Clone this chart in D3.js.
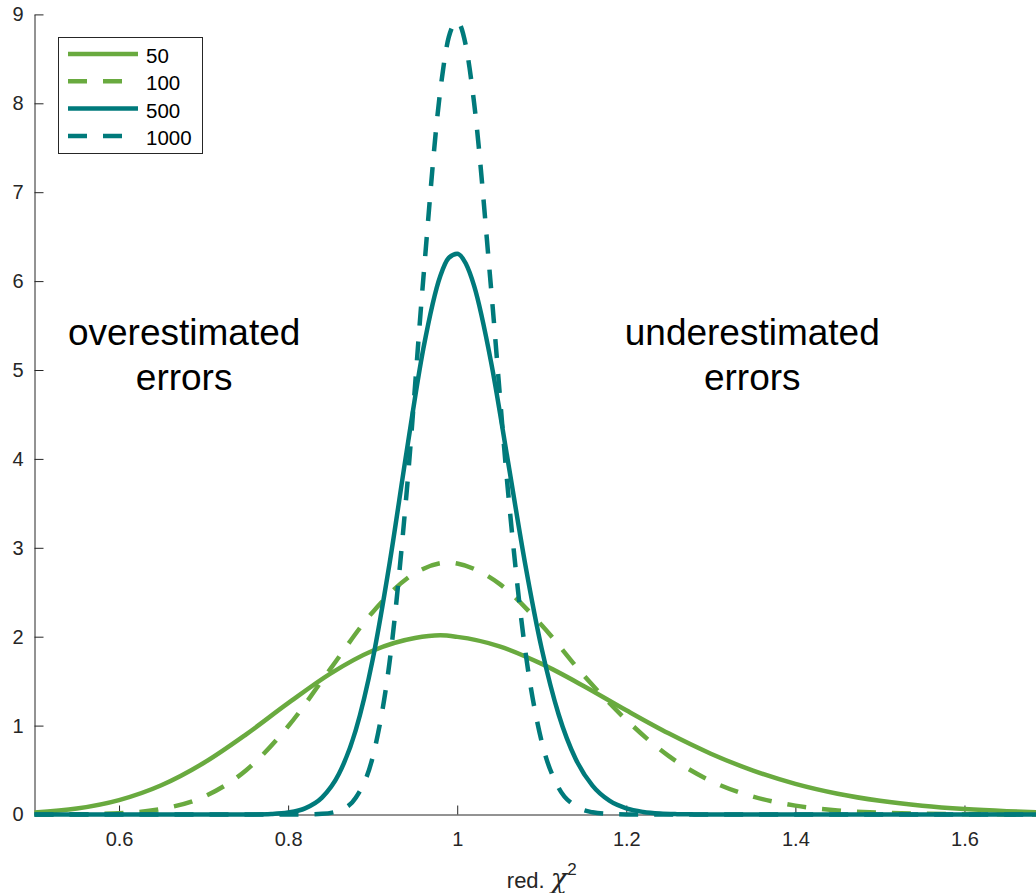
<!DOCTYPE html>
<html>
<head>
<meta charset="utf-8">
<script src="https://cdn.jsdelivr.net/npm/d3@7"></script>
<style>
  html, body { margin: 0; padding: 0; background: #fff; }
  svg { display: block; font-family: "Liberation Sans", Arial, Helvetica, sans-serif; }
</style>
</head>
<body>
<svg id="chart" width="1036" height="893"></svg>
<script>
// Reduced chi-squared probability densities for several numbers of data points.
const seriesNames = ["50", "100", "500", "1000"];

const x50 = [0.50, 0.55, 0.60, 0.65, 0.70, 0.75, 0.80, 0.85, 0.90, 0.95, 0.98, 1.00, 1.05, 1.10, 1.15,
             1.20, 1.25, 1.30, 1.35, 1.40, 1.45, 1.50, 1.55, 1.60, 1.65, 1.70];
const y50 = [0.023, 0.067, 0.162, 0.329, 0.579, 0.899, 1.252, 1.585, 1.842, 1.985, 2.015, 1.998, 1.892, 1.694, 1.443,
             1.172, 0.913, 0.684, 0.494, 0.345, 0.234, 0.154, 0.098, 0.061, 0.037, 0.022];

const x100 = [0.50, 0.55, 0.60, 0.65, 0.70, 0.75, 0.80, 0.85, 0.90, 0.95, 0.99, 1.00, 1.05, 1.10, 1.15,
              1.20, 1.25, 1.30, 1.35, 1.40, 1.45, 1.50, 1.55, 1.60, 1.65, 1.70];
const y100 = [0.0003, 0.0023, 0.014, 0.062, 0.198, 0.495, 0.992, 1.638, 2.276, 2.715, 2.835, 2.823, 2.594, 2.129, 1.561,
              1.065, 0.659, 0.377, 0.201, 0.100, 0.046, 0.020, 0.0085, 0.0034, 0.0013, 0.0005];

const x500 = [0.50, 0.60, 0.70, 0.72, 0.74, 0.76, 0.78, 0.80, 0.82, 0.84, 0.86, 0.88, 0.90, 0.92, 0.94, 0.96,
              0.98, 0.99, 1.00, 1.01, 1.02, 1.04, 1.06, 1.08, 1.10, 1.12, 1.14, 1.16, 1.18, 1.20, 1.22, 1.24,
              1.26, 1.28, 1.30, 1.40, 1.50, 1.60, 1.70];
const y500 = [0, 0, 0, 0.0000, 0.0003, 0.0013, 0.0058, 0.0217, 0.069, 0.190, 0.455, 0.949, 1.742, 2.825, 4.072, 5.243,
              6.058, 6.261, 6.309, 6.200, 5.946, 5.092, 3.975, 2.840, 1.863, 1.125, 0.627, 0.324, 0.155, 0.069, 0.029, 0.011,
              0.004, 0.0014, 0.0005, 0, 0, 0, 0];

const x1000 = [0.50, 0.60, 0.70, 0.78, 0.80, 0.82, 0.84, 0.86, 0.88, 0.90, 0.92, 0.94, 0.96, 0.98, 0.99, 1.00,
               1.01, 1.02, 1.04, 1.06, 1.08, 1.10, 1.12, 1.14, 1.16, 1.18, 1.20, 1.22, 1.30, 1.40, 1.50, 1.60, 1.70];
const y1000 = [0, 0, 0, 0, 0.0001, 0.0010, 0.0074, 0.043, 0.189, 0.645, 1.715, 3.603, 6.037, 8.143, 8.744, 8.921,
               8.659, 8.003, 5.925, 3.647, 1.879, 0.816, 0.300, 0.094, 0.025, 0.006, 0.0012, 0.0002, 0, 0, 0, 0, 0];

const xTicks = [0.6, 0.8, 1.0, 1.2, 1.4, 1.6];
const yTicks = [0, 1, 2, 3, 4, 5, 6, 7, 8, 9];

const green = "#69aa3f";
const teal = "#007a7b";

const series = [
  { name: seriesNames[0], xs: x50,   ys: y50,   color: green, dashed: false },
  { name: seriesNames[1], xs: x100,  ys: y100,  color: green, dashed: true },
  { name: seriesNames[2], xs: x500,  ys: y500,  color: teal,  dashed: false },
  { name: seriesNames[3], xs: x1000, ys: y1000, color: teal,  dashed: true }
];

const svg = d3.select("#chart");
const axisColor = "#262626";
const dash = "19,16";
const lineW = 4.5;

const x = d3.scaleLinear().domain([0.5, 1.7]).range([34.5, 1049]);
const y = d3.scaleLinear().domain([0, 9]).range([814.5, 14.4]);

// Curves
const line = d3.line()
  .x(d => x(d[0]))
  .y(d => y(d[1]))
  .curve(d3.curveMonotoneX);

const curves = svg.append("g");
curves.selectAll("path")
  .data(series)
  .join("path")
  .attr("d", s => line(s.xs.map((v, i) => [v, s.ys[i]])))
  .attr("fill", "none")
  .attr("stroke", s => s.color)
  .attr("stroke-width", lineW)
  .attr("stroke-dasharray", s => s.dashed ? dash : null)
  .attr("stroke-linejoin", "round");

// Axes (ticks pointing inward)
const fmt = d3.format("~g");
const gx = svg.append("g")
  .attr("transform", `translate(0,${y(0)})`)
  .call(d3.axisBottom(x).tickValues(xTicks).tickFormat(fmt).tickSizeInner(-9).tickSizeOuter(0).tickPadding(17));
const gy = svg.append("g")
  .attr("transform", `translate(${x(0.5)},0)`)
  .call(d3.axisLeft(y).tickValues(yTicks).tickFormat(fmt).tickSizeInner(-9).tickSizeOuter(0).tickPadding(11));

[gx, gy].forEach(g => {
  g.select(".domain").attr("stroke", axisColor).attr("stroke-width", 1);
  g.selectAll(".tick line").attr("stroke", axisColor).attr("stroke-width", 1);
  g.selectAll(".tick text")
    .attr("fill", axisColor)
    .style("font-size", "20px")
    .style("font-family", "'Liberation Sans', Arial, Helvetica, sans-serif");
});
// curves sit above the axis baseline
curves.raise();

// x-axis label
const xl = svg.append("text")
  .attr("x", (x(0.5) + x(1.7)) / 2)
  .attr("y", 888)
  .attr("text-anchor", "middle")
  .attr("fill", axisColor)
  .style("font-size", "22px");
xl.append("tspan").text("red. ");
xl.append("tspan").text("χ").style("font-style", "italic").style("font-size", "27px").style("font-family", "'DejaVu Serif', serif");
xl.append("tspan").text("2").attr("dy", -13).style("font-size", "17px");

// Annotations
const notes = [
  { lines: ["overestimated", "errors"], xv: 0.677 },
  { lines: ["underestimated", "errors"], xv: 1.349 }
];
notes.forEach(n => {
  n.lines.forEach((t, i) => {
    svg.append("text")
      .attr("x", x(n.xv))
      .attr("y", 345 + i * 45)
      .attr("text-anchor", "middle")
      .attr("fill", "#000")
      .style("font-size", "37px")
      .text(t);
  });
});

// Legend
const leg = svg.append("g");
leg.append("rect")
  .attr("x", 58.5).attr("y", 37.5)
  .attr("width", 144).attr("height", 116)
  .attr("fill", "#fff")
  .attr("stroke", axisColor)
  .attr("stroke-width", 1);
series.forEach((s, i) => {
  const ry = 54 + i * 27.3;
  leg.append("line")
    .attr("x1", 68).attr("x2", 138)
    .attr("y1", ry).attr("y2", ry)
    .attr("stroke", s.color)
    .attr("stroke-width", lineW)
    .attr("stroke-dasharray", s.dashed ? dash : null);
  leg.append("text")
    .attr("x", 146)
    .attr("y", ry + 9)
    .attr("fill", "#000")
    .style("font-size", "20.5px")
    .text(s.name);
});
</script>
</body>
</html>
